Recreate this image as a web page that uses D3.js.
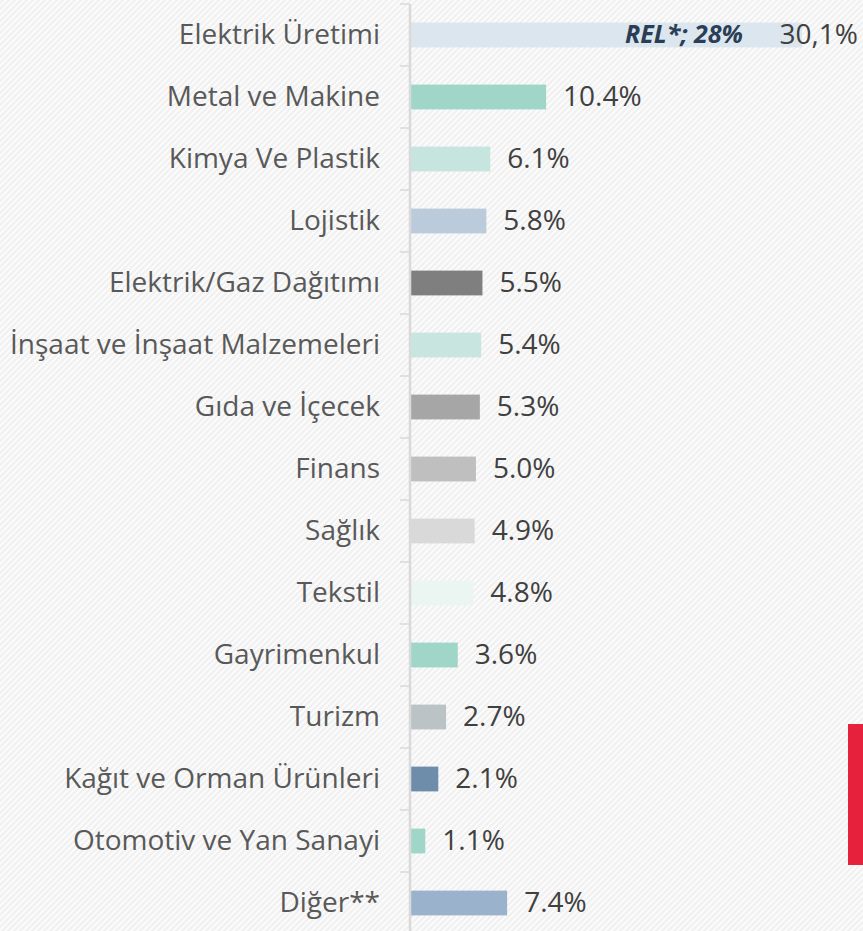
<!DOCTYPE html>
<html lang="tr">
<head>
    <meta charset="utf-8">
    <title>Sektör Dağılımı</title>
    <script src="https://d3js.org/d3.v7.min.js"></script>
    <style>
        html, body { margin: 0; padding: 0; background: #f4f4f4; }
        svg { display: block; font-family: "Open Sans", "Noto Sans", sans-serif; }
    </style>
</head>
<body>
    <div id="chart"></div>
    <script>
        // Sector names, shares (%) and the bar colours
        const sectors = ["Elektrik Üretimi", "Metal ve Makine", "Kimya Ve Plastik", "Lojistik",
            "Elektrik/Gaz Dağıtımı", "İnşaat ve İnşaat Malzemeleri", "Gıda ve İçecek", "Finans",
            "Sağlık", "Tekstil", "Gayrimenkul", "Turizm", "Kağıt ve Orman Ürünleri",
            "Otomotiv ve Yan Sanayi", "Diğer**"];
        const shares = [30.1, 10.4, 6.1, 5.8, 5.5, 5.4, 5.3, 5.0, 4.9, 4.8, 3.6, 2.7, 2.1, 1.1, 7.4];
        const labels = ["30,1%", "10.4%", "6.1%", "5.8%", "5.5%", "5.4%", "5.3%", "5.0%",
            "4.9%", "4.8%", "3.6%", "2.7%", "2.1%", "1.1%", "7.4%"];
        const colors = ["#dce6ee", "#9fd6c8", "#c6e5de", "#bccbdb", "#7f7f7f", "#c8e6df", "#a6a6a6",
            "#bfbfbf", "#d9d9d9", "#ebf5f2", "#9fd6c8", "#bbc3c6", "#6e8daa", "#9fd6c8", "#9bb2cc"];
        // note written inside the first bar
        const insideNote = "REL*; 28%";

        var width = 863,
            height = 931,
            axisX = 410;

        var svg = d3.select("#chart")
            .append("svg")
            .attr("width", width)
            .attr("height", height);

        // striped background
        var pat = svg.append("defs").append("pattern")
            .attr("id", "stripes")
            .attr("patternUnits", "userSpaceOnUse")
            .attr("width", 6)
            .attr("height", 6);
        pat.append("rect").attr("width", 6).attr("height", 6).attr("fill", "#f1f1f1");
        pat.append("path")
            .attr("d", "M-1,1 L1,-1 M0,6 L6,0 M5,7 L7,5")
            .attr("stroke", "#fdfdfd")
            .attr("stroke-width", 1.8);
        svg.append("rect").attr("width", width).attr("height", height).attr("fill", "url(#stripes)");

        var x = d3.scaleLinear()
            .domain([0, 30.1])
            .range([axisX + 1, 802]);

        var y = d3.scaleBand()
            .domain(sectors)
            .range([4, 934])
            .paddingInner(0.6)
            .paddingOuter(0.3);

        var gap = (y.step() - y.bandwidth()) / 2;

        // tick marks between categories
        var tickYs = sectors.map(s => y(s) - gap).concat([y(sectors[sectors.length - 1]) + y.bandwidth() + gap]);
        svg.selectAll(".tick")
            .data(tickYs)
            .enter()
            .append("line")
            .attr("x1", axisX - 10)
            .attr("x2", axisX)
            .attr("y1", d => d)
            .attr("y2", d => d)
            .attr("stroke", "#d9d9d9")
            .attr("stroke-width", 1.5);

        // bars
        svg.selectAll(".bar")
            .data(sectors)
            .enter()
            .append("rect")
            .attr("x", x(0))
            .attr("y", d => y(d))
            .attr("width", (d, i) => x(shares[i]) - x(0))
            .attr("height", y.bandwidth())
            .attr("fill", (d, i) => colors[i]);

        // axis line
        svg.append("line")
            .attr("x1", axisX)
            .attr("x2", axisX)
            .attr("y1", 4)
            .attr("y2", height)
            .attr("stroke", "#d9d9d9")
            .attr("stroke-width", 2.5);

        // category labels
        svg.selectAll(".cat")
            .data(sectors)
            .enter()
            .append("text")
            .attr("x", 380)
            .attr("y", d => y(d) + y.bandwidth() / 2)
            .attr("dy", "0.33em")
            .attr("text-anchor", "end")
            .attr("fill", "#595959")
            .style("font-size", "28px")
            .text(d => d);

        // value labels, kept inside the picture
        svg.selectAll(".val")
            .data(sectors)
            .enter()
            .append("text")
            .attr("y", d => y(d) + y.bandwidth() / 2)
            .attr("dy", "0.33em")
            .attr("fill", "#404040")
            .style("font-size", "28px")
            .text((d, i) => labels[i])
            .attr("x", function (d, i) {
                var w = this.getComputedTextLength();
                return Math.min(x(shares[i]) + 17, width - 5 - w);
            });

        // note inside the first bar
        svg.append("text")
            .attr("x", 743)
            .attr("y", y(sectors[0]) + y.bandwidth() / 2)
            .attr("dy", "0.33em")
            .attr("text-anchor", "end")
            .attr("fill", "#2b3e55")
            .style("font-size", "25px")
            .style("font-weight", "bold")
            .style("font-style", "italic")
            .text(insideNote);

        // red marker at the right edge
        svg.append("rect")
            .attr("x", 848)
            .attr("y", 724)
            .attr("width", width - 848)
            .attr("height", 141)
            .attr("fill", "#e5213c");
    </script>
</body>
</html>
